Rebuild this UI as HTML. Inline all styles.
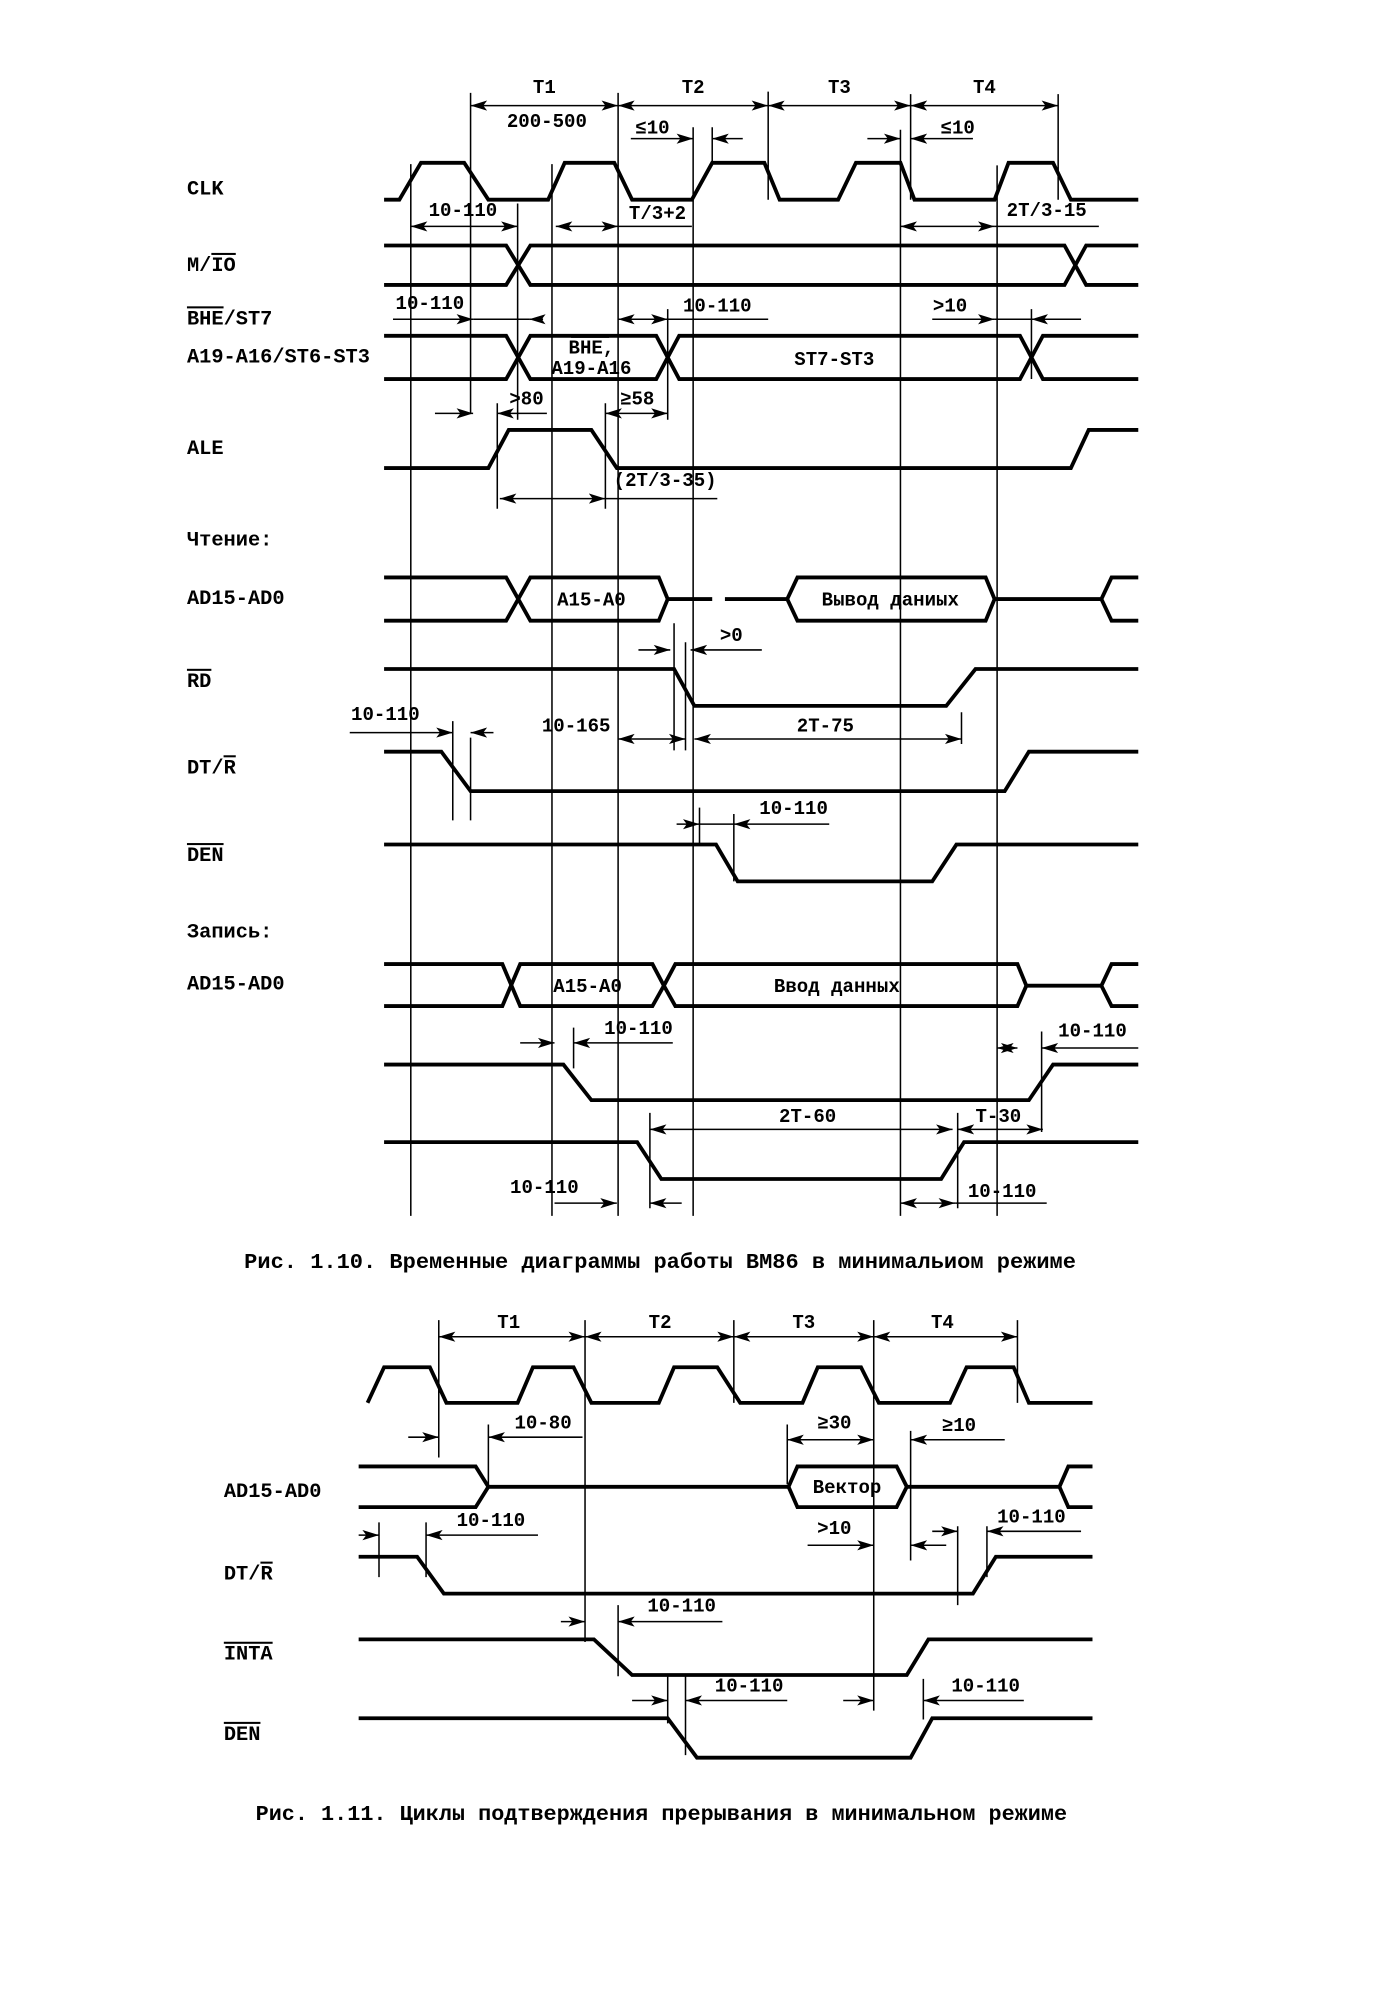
<!DOCTYPE html>
<html><head><meta charset="utf-8"><style>
html,body{margin:0;padding:0;background:#fff;}
svg{display:block;}
text{font-family:"Liberation Mono","DejaVu Sans Mono",monospace;font-weight:bold;fill:#000;font-size:15px;}
.l{font-size:16px;}
.c{text-anchor:middle;}
.s{fill:none;stroke:#000;stroke-width:3;stroke-linejoin:miter;}
.v{stroke:#000;stroke-width:1.2;fill:none;}
.a{stroke:#000;stroke-width:1.2;fill:none;marker-end:url(#ar);}
.d{stroke:#000;stroke-width:1.2;fill:none;marker-end:url(#ar);marker-start:url(#ars);}
</style></head><body>
<svg width="1399" height="1993" viewBox="0 0 1100 1567" xmlns="http://www.w3.org/2000/svg">
<defs>
<marker id="ar" markerUnits="userSpaceOnUse" markerWidth="14" markerHeight="10" refX="13" refY="5" orient="auto"><path d="M0,1 L13,5 L0,9 L3,5 Z" fill="#000"/></marker>
<marker id="ars" markerUnits="userSpaceOnUse" markerWidth="14" markerHeight="10" refX="13" refY="5" orient="auto-start-reverse"><path d="M0,1 L13,5 L0,9 L3,5 Z" fill="#000"/></marker>
</defs>

<!-- ===== Figure 1.10 ===== -->
<!-- verticals -->
<path class="v" d="M370 73V325 M486 73V956 M604 72V157 M716 74V157 M832 74V157 M545 100V956 M708 102V956 M323 129V956 M434 129V956 M784 130V956 M560 100V130 M407 160V330 M525 243V330 M811 243V298 M391 317V400 M476 317V400 M530 490V590 M539 505V590 M356 567V645 M370 580V645 M756 560V585 M550 635V665 M577 640V693 M451 808V840 M819 811V890 M511 875V950 M753 875V950"/>

<!-- T dims -->
<path class="d" d="M370 83H486"/><path class="d" d="M486 83H604"/><path class="d" d="M604 83H716"/><path class="d" d="M716 83H832"/>
<text class="c" x="428" y="73">T1</text><text class="c" x="545" y="73">T2</text><text class="c" x="660" y="73">T3</text><text class="c" x="774" y="73">T4</text>
<text class="c" x="430" y="100">200-500</text>
<path class="a" d="M496 109H545"/><path class="a" d="M584 109H560"/><text class="c" x="513" y="105">≤10</text>
<path class="a" d="M682 109H708"/><path class="a" d="M765 109H716"/><text class="c" x="753" y="105">≤10</text>

<!-- CLK -->
<path class="s" d="M302 157H314L331 128H365L384 157H431L444 128H483L497 157H544L560 128H601L613 157H659L673 128H708L719 157H782L793 128H828L842 157H895"/>
<path class="d" d="M323 178H407"/><path class="d" d="M437 178H486"/><path class="v" d="M486 178H544"/>
<text class="c" x="364" y="170">10-110</text><text class="c" x="517" y="172">T/3+2</text>
<path class="d" d="M708 178H782"/><path class="v" d="M782 178H864"/><text class="c" x="823" y="170">2T/3-15</text>

<!-- M/IO -->
<path class="s" d="M302 193H398L417 224H837L854 193H895"/>
<path class="s" d="M302 224H398L417 193H837L854 224H895"/>

<!-- BHE measure -->
<path class="a" d="M309 251H372"/><path class="a" d="M427 251H416"/><path class="v" d="M372 251H416"/>
<text class="c" x="338" y="243">10-110</text>
<path class="d" d="M486 251H525"/><path class="v" d="M525 251H604"/><text class="c" x="564" y="245">10-110</text>
<path class="a" d="M733 251H782"/><path class="a" d="M850 251H811"/><path class="v" d="M782 251H811"/><text class="c" x="747" y="245">&gt;10</text>

<!-- A19 bus -->
<path class="s" d="M302 264H398L417 298H516L534 264H802L820 298H895"/>
<path class="s" d="M302 298H398L417 264H516L534 298H802L820 264H895"/>
<text class="c" x="465" y="278">BHE,</text><path class="v" d="M449 265H479"/>
<text class="c" x="465" y="294">A19-A16</text>
<text class="c" x="656" y="287">ST7-ST3</text>

<!-- >80 >58 -->
<path class="a" d="M342 325H372"/><path class="a" d="M430 325H391"/><text class="c" x="414" y="318">&gt;80</text>
<path class="d" d="M476 325H525"/><text class="c" x="501" y="318">≥58</text>

<!-- ALE -->
<path class="s" d="M302 368H384L400 338H465L485 368H842L856 338H895"/>
<text class="c" x="523" y="382">(2T/3-35)</text>
<path class="d" d="M393 392H476"/><path class="v" d="M476 392H564"/>

<!-- Read AD -->
<path class="s" d="M302 454H398L417 488H518L525 471"/>
<path class="s" d="M302 488H398L417 454H518L525 471H560"/>
<path class="s" d="M570 471H619L627 454H775L782 471H866L874 454H895"/>
<path class="s" d="M619 471L627 488H775L782 471"/>
<path class="s" d="M866 471L874 488H895"/>
<text class="c" x="465" y="476">A15-A0</text>
<text class="c" x="700" y="476">Вывод даниых</text>
<path class="a" d="M502 511H527"/><path class="a" d="M599 511H543"/><text class="c" x="575" y="504">&gt;0</text>

<!-- RD -->
<path class="s" d="M302 526H530L546 555H744L767 526H895"/>
<path class="a" d="M275 576H356"/><path class="a" d="M388 576H370"/><text class="c" x="303" y="566">10-110</text>
<text class="c" x="453" y="575">10-165</text>
<path class="d" d="M486 581H539"/><path class="d" d="M546 581H756"/><text class="c" x="649" y="575">2T-75</text>

<!-- DT/R -->
<path class="s" d="M302 591H347L370 622H790L809 591H895"/>
<path class="a" d="M532 648H550"/><path class="a" d="M652 648H577"/><path class="v" d="M550 648H577"/><text class="c" x="624" y="640">10-110</text>

<!-- DEN -->
<path class="s" d="M302 664H563L580 693H733L752 664H895"/>

<!-- Write AD -->
<path class="s" d="M302 758H395L409 791H513L522 775"/>
<path class="s" d="M302 791H395L409 758H513L522 775"/>
<path class="s" d="M522 775L531 758H800L807 775H866L874 758H895"/>
<path class="s" d="M522 775L531 791H800L807 775"/>
<path class="s" d="M866 775L874 791H895"/>
<text class="c" x="462" y="780">A15-A0</text>
<text class="c" x="658" y="780">Ввод данных</text>
<path class="a" d="M409 820H436"/><path class="a" d="M529 820H451"/><text class="c" x="502" y="813">10-110</text>

<!-- WR -->
<path class="s" d="M302 837H443L465 865H809L828 837H895"/>
<path class="d" d="M784 824H800"/><path class="a" d="M895 824H819"/><text class="c" x="859" y="815">10-110</text>
<path class="d" d="M511 888H749"/><path class="d" d="M753 888H820"/>
<text class="c" x="635" y="882">2T-60</text><text class="c" x="785" y="882">T-30</text>

<!-- bottom -->
<path class="s" d="M302 898H501L520 927H740L758 898H895"/>
<path class="a" d="M436 946H485"/><path class="a" d="M536 946H511"/><text class="c" x="428" y="938">10-110</text>
<path class="d" d="M708 946H751"/><path class="v" d="M751 946H823"/><text class="c" x="788" y="941">10-110</text>

<!-- labels -->
<text class="l" x="147" y="153">CLK</text>
<text class="l" x="147" y="213">M/<tspan text-decoration="overline">IO</tspan></text>
<text class="l" x="147" y="255"><tspan text-decoration="overline">BHE</tspan>/ST7</text>
<text class="l" x="147" y="285">A19-A16/ST6-ST3</text>
<text class="l" x="147" y="357">ALE</text>
<text class="l" x="147" y="429">Чтение:</text>
<text class="l" x="147" y="475">AD15-AD0</text>
<text class="l" x="147" y="540" text-decoration="overline">RD</text>
<text class="l" x="147" y="608">DT/<tspan text-decoration="overline">R</tspan></text>
<text class="l" x="147" y="677" text-decoration="overline">DEN</text>
<text class="l" x="147" y="737">Запись:</text>
<text class="l" x="147" y="778">AD15-AD0</text>

<text x="192" y="997" textLength="654" lengthAdjust="spacingAndGlyphs" style="font-size:17px">Рис. 1.10. Временные диаграммы работы ВМ86 в минимальиом режиме</text>

<!-- ===== Figure 1.11 ===== -->
<path class="v" d="M345 1038V1146 M460 1038V1291 M577 1038V1103 M687 1038V1345 M800 1038V1103 M384 1120V1170 M619 1120V1167 M716 1125V1227 M298 1197V1240 M335 1197V1240 M753 1200V1262 M776 1200V1240 M486 1262V1318 M525 1318V1355 M539 1318V1380 M726 1320V1352"/>
<path class="d" d="M345 1051H460"/><path class="d" d="M460 1051H577"/><path class="d" d="M577 1051H687"/><path class="d" d="M687 1051H800"/>
<text class="c" x="400" y="1044">T1</text><text class="c" x="519" y="1044">T2</text><text class="c" x="632" y="1044">T3</text><text class="c" x="741" y="1044">T4</text>
<path class="s" d="M289 1103L302 1075H338L351 1103H407L419 1075H451L465 1103H518L530 1075H564L582 1103H631L643 1075H677L691 1103H747L760 1075H797L809 1103H859"/>
<path class="a" d="M321 1130H345"/><path class="a" d="M458 1130H384"/><text class="c" x="427" y="1123">10-80</text>
<path class="d" d="M619 1132H687"/><text class="c" x="656" y="1123">≥30</text>
<path class="a" d="M790 1132H716"/><text class="c" x="754" y="1125">≥10</text>

<path class="s" d="M282 1153H374L384 1169H620L627 1153H705L713 1169H833L840 1153H859"/>
<path class="s" d="M282 1185H374L384 1169"/>
<path class="s" d="M620 1169L627 1185H705L713 1169"/>
<path class="s" d="M833 1169L840 1185H859"/>
<text class="c" x="666" y="1174">Вектор</text>

<path class="a" d="M282 1207H298"/><path class="a" d="M423 1207H335"/><text class="c" x="386" y="1200">10-110</text>
<path class="a" d="M635 1215H687"/><path class="a" d="M744 1215H716"/><text class="c" x="656" y="1206">&gt;10</text>
<path class="a" d="M733 1204H753"/><path class="a" d="M850 1204H776"/><text class="c" x="811" y="1197">10-110</text>

<path class="s" d="M282 1224H328L349 1253H765L783 1224H859"/>
<path class="a" d="M441 1275H460"/><path class="a" d="M568 1275H486"/><text class="c" x="536" y="1267">10-110</text>
<path class="s" d="M282 1289H467L497 1317H713L730 1289H859"/>
<path class="a" d="M497 1337H525"/><path class="a" d="M619 1337H539"/><text class="c" x="589" y="1330">10-110</text>
<path class="a" d="M663 1337H687"/><path class="a" d="M805 1337H726"/><text class="c" x="775" y="1330">10-110</text>
<path class="s" d="M282 1351H525L548 1382H716L733 1351H859"/>

<text class="l" x="176" y="1177">AD15-AD0</text>
<text class="l" x="176" y="1242">DT/<tspan text-decoration="overline">R</tspan></text>
<text class="l" x="176" y="1305" text-decoration="overline">INTA</text>
<text class="l" x="176" y="1368" text-decoration="overline">DEN</text>

<text x="201" y="1431" textLength="638" lengthAdjust="spacingAndGlyphs" style="font-size:17px">Рис. 1.11. Циклы подтверждения прерывания в минимальном режиме</text>
</svg>
</body></html>
